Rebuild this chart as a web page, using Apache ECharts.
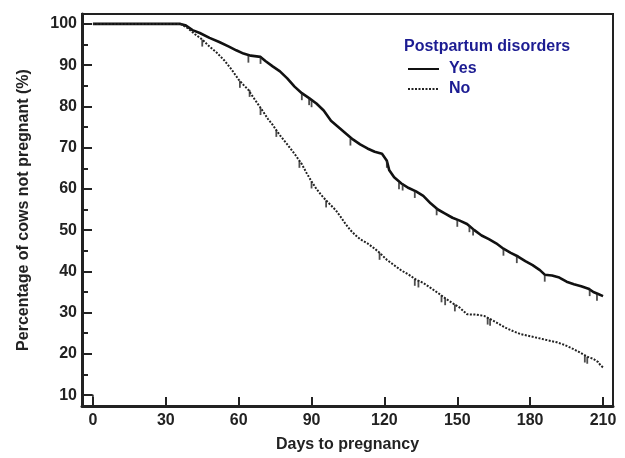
<!DOCTYPE html>
<html>
<head>
<meta charset="utf-8">
<script src="https://cdn.jsdelivr.net/npm/echarts@6/dist/echarts.min.js"></script>
<style>
html,body{margin:0;padding:0;background:#fff;}
#chart{width:625px;height:458px;}
</style>
</head>
<body>
<div id="chart"></div>
<script>
// Tick labels
const xTicks = [0, 30, 60, 90, 120, 150, 180, 210];
const yTicks = [10, 20, 30, 40, 50, 60, 70, 80, 90, 100];
const yMinorTicks = [15, 25, 35, 45, 55, 65, 75, 85, 95];

// Kaplan-Meier curves: [day, % not pregnant]
const yesCurve = [[0,100],[36,100],[38,99.7],[41,98.5],[44,97.8],[48,96.6],[52,95.6],[56,94.5],[59,93.6],[62,92.8],[65,92.3],[69,92],[71,91],[74,89.7],[77,88.5],[80,86.8],[83,84.8],[86,83.2],[89,82],[92,80.7],[95,79],[98,76.5],[101,75],[104,73.5],[107,72],[110,70.8],[113,69.8],[116,69],[119,68.5],[121,66.8],[122,64.5],[124,62.8],[127,61.3],[130,60.2],[133,59.4],[136,58.3],[139,56.5],[142,55],[145,54],[148,53],[151,52.3],[154,51.5],[157,50],[160,48.7],[163,47.8],[166,46.8],[169,45.5],[172,44.5],[175,43.6],[178,42.5],[181,41.5],[184,40.3],[186,39.2],[189,39],[192,38.5],[195,37.5],[198,36.9],[201,36.4],[204,35.8],[206,35],[208,34.5],[210,34]];
const noCurve = [[0,100],[36,100],[39,99],[42,97.5],[45,96.2],[48,94.5],[51,93],[54,91.2],[57,89],[60,86.5],[62,85.2],[64,84],[66,82.2],[68,80.5],[70,78.8],[72,77],[74,75.5],[77,73],[80,70.8],[83,68.5],[86,66],[88,63.8],[90,61.8],[92,60],[94,58.5],[96,57.2],[98,56],[100,54.8],[102,53.2],[104,51.5],[106,50],[108,48.8],[110,47.8],[113,46.8],[116,45.5],[118,44.5],[121,42.8],[124,41.5],[127,40.2],[130,39.2],[133,38],[136,37.2],[139,36],[142,34.8],[145,33.5],[148,32.3],[151,31.2],[154,29.6],[158,29.5],[161,29.2],[164,28.3],[167,27.3],[170,26.3],[173,25.5],[176,24.8],[179,24.4],[182,24],[185,23.6],[188,23.2],[191,22.8],[194,22.2],[197,21.4],[200,20.5],[202,19.8],[204,19.2],[206,18.8],[208,18],[209,17.2],[210,16.7]];

// Censored observations: [day, %]
const yesCensored = [[64,92.3],[69,92],[86,83.2],[89,82],[90,81.5],[106,72.2],[121,66.8],[126,61.6],[127.5,61.3],[132.5,59.5],[141.5,55.3],[150,52.5],[155,51.2],[156.5,50.4],[169,45.5],[174.5,43.7],[186,39.2],[204.5,35.7],[207.5,34.6]];
const noCensored = [[45,96.2],[60.5,86.2],[64.5,84],[69,79.6],[75.5,74.3],[85,66.8],[90,61.8],[96,57.2],[118,44.5],[132.5,38.2],[134,37.8],[143.5,34.2],[145,33.5],[149,32],[162.5,28.8],[163.5,28.5],[202.5,19.6],[203.5,19.3]];

// small corner mark near origin
const cornerMark = [[-4.5,10],[0,10],[0,7.36]];

const X_MIN = -4.5, X_MAX = 214.1, Y_MIN = 7.36, Y_MAX = 102.4;
const FONT = 'Liberation Sans, Arial, sans-serif';
const LEGEND_BLUE = '#1c1c92';

const chart = echarts.init(document.getElementById('chart'), null, {renderer: 'canvas'});
const censorSymbol = {
  type: 'scatter',
  symbol: 'rect',
  symbolSize: [1.8, 7],
  symbolOffset: [0, 3.5],
  itemStyle: {color: '#222'},
  silent: true,
  z: 4
};
chart.setOption({
  animation: false,
  backgroundColor: '#fff',
  grid: {left: 82, right: 12, top: 14, bottom: 48, show: true, borderColor: '#222', borderWidth: 2, backgroundColor: 'transparent'},
  xAxis: {
    type: 'value', min: X_MIN, max: X_MAX,
    name: 'Days to pregnancy', nameLocation: 'middle', nameGap: 31,
    nameTextStyle: {fontFamily: FONT, fontWeight: 'bold', fontSize: 16, color: '#222'},
    axisLine: {show: true, onZero: false, lineStyle: {color: '#222', width: 3}},
    axisTick: {show: true, inside: true, length: 9, lineStyle: {color: '#222', width: 2}, customValues: xTicks},
    axisLabel: {customValues: xTicks, fontFamily: FONT, fontWeight: 'bold', fontSize: 16, color: '#222', margin: 7},
    splitLine: {show: false}
  },
  yAxis: [{
    type: 'value', min: Y_MIN, max: Y_MAX,
    name: 'Percentage of cows not pregnant (%)', nameLocation: 'middle', nameGap: 50,
    nameTextStyle: {fontFamily: FONT, fontWeight: 'bold', fontSize: 16, color: '#222'},
    axisLine: {show: true, onZero: false, lineStyle: {color: '#222', width: 3}},
    axisTick: {show: true, inside: true, length: 10, lineStyle: {color: '#222', width: 2}, customValues: yTicks},
    axisLabel: {customValues: yTicks, fontFamily: FONT, fontWeight: 'bold', fontSize: 16, color: '#222', margin: 5},
    splitLine: {show: false}
  }, {
    type: 'value', min: Y_MIN, max: Y_MAX, position: 'left',
    axisLine: {show: false, onZero: false},
    axisTick: {show: true, inside: true, length: 6, lineStyle: {color: '#222', width: 2}, customValues: yMinorTicks},
    axisLabel: {show: false},
    splitLine: {show: false}
  }],
  legend: {
    data: ['Yes', 'No'],
    orient: 'vertical',
    left: 402, top: 56,
    itemWidth: 31, itemHeight: 10, itemGap: 4,
    itemStyle: {opacity: 0},
    textStyle: {fontFamily: FONT, fontWeight: 'bold', fontSize: 16, color: LEGEND_BLUE, padding: [0, 0, 0, 5]}
  },
  graphic: [{
    type: 'text', left: 404, top: 39,
    style: {text: 'Postpartum disorders', font: 'bold 16px ' + FONT, fill: LEGEND_BLUE}
  }],
  series: [{
    name: 'Yes', type: 'line', data: yesCurve, showSymbol: false, symbol: 'none',
    lineStyle: {color: '#111', width: 2.6}, itemStyle: {color: '#111'}, z: 3
  }, {
    name: 'No', type: 'line', data: noCurve, showSymbol: false, symbol: 'none',
    lineStyle: {color: '#222', width: 2, type: [2, 1.5]}, itemStyle: {color: '#222'}, z: 3
  }, Object.assign({name: 'Yes censored', data: yesCensored}, censorSymbol),
     Object.assign({name: 'No censored', data: noCensored}, censorSymbol),
  {
    name: 'corner', type: 'line', data: cornerMark, showSymbol: false, symbol: 'none',
    lineStyle: {color: '#222', width: 1.5}, silent: true
  }]
});
</script>
</body>
</html>
